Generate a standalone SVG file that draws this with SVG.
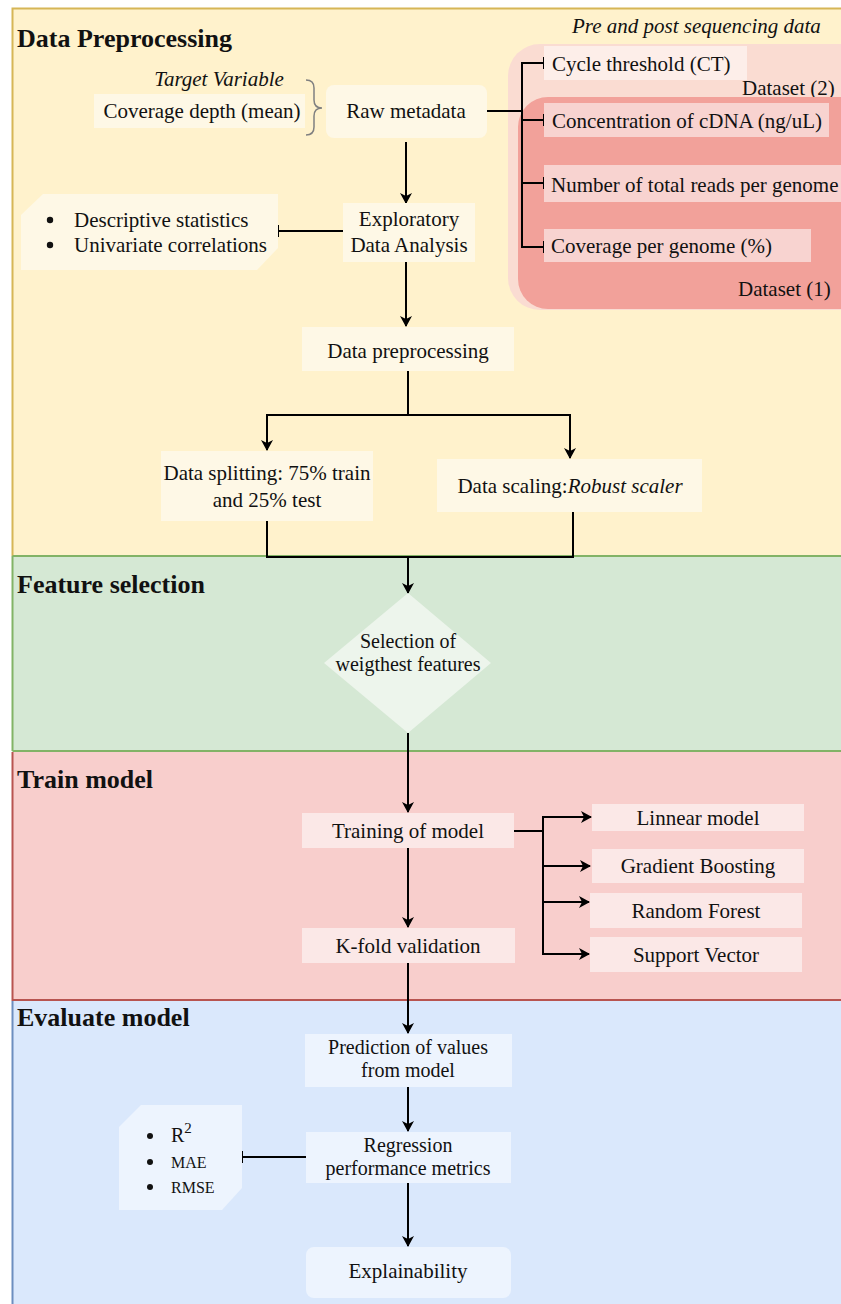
<svg xmlns="http://www.w3.org/2000/svg" width="841" height="1304" viewBox="0 0 841 1304" font-family="'Liberation Serif', serif">
<defs>
<marker id="arrow" markerUnits="userSpaceOnUse" markerWidth="11" markerHeight="12" viewBox="0 0 11 12" refX="10" refY="6" orient="auto">
<path d="M0,0 L11,6 L0,12 L3,6 z" fill="#000"/>
</marker>
<marker id="tee" markerUnits="userSpaceOnUse" markerWidth="4" markerHeight="14" viewBox="0 0 4 14" refX="2" refY="7" orient="auto">
<path d="M2,1 L2,13" stroke="#000" stroke-width="2"/>
</marker>
</defs>
<style>
text{font-family:'Liberation Serif',serif;font-size:21px;fill:#111}
.title{font-weight:bold;font-size:26px}
.it{font-style:italic}
.c{text-anchor:middle}
.two{font-size:20px}
.line{fill:none;stroke:#000;stroke-width:2}
.arr{marker-end:url(#arrow)}
.tee{marker-end:url(#tee)}
.yb{fill:#fef8e6}
.gb{fill:#edf5ec}
.rb{fill:#fbe8e7}
.bb{fill:#edf4fe}
</style>
<rect x="0" y="0" width="841" height="1304" fill="#ffffff"/>
<!-- lanes -->
<g id="lane-preprocessing">
<rect x="12.5" y="8.5" width="840" height="548" fill="#fff2cc"/>
<path d="M12.5,556 L12.5,8.5 L841,8.5" fill="none" stroke="#d6b656" stroke-width="2"/>
<text class="title" x="17" y="47">Data Preprocessing</text>
</g>
<g id="lane-feature">
<rect x="12.5" y="556" width="840" height="195" fill="#d5e8d4"/>
<path d="M12.5,751 L12.5,556 M12.5,556 L841,556 M12.5,751 L841,751" fill="none" stroke="#82b366" stroke-width="2"/>
<text class="title" x="17" y="593">Feature selection</text>
</g>
<g id="lane-train">
<rect x="12.5" y="752" width="840" height="248" fill="#f8cecc"/>
<path d="M12.5,752 L12.5,1000 L841,1000" fill="none" stroke="#b85450" stroke-width="2"/>
<text class="title" x="17" y="788">Train model</text>
</g>
<g id="lane-evaluate">
<rect x="12.5" y="1001" width="840" height="310" fill="#dae8fc"/>
<path d="M12.5,1001 L12.5,1304" fill="none" stroke="#6c8ebf" stroke-width="2"/>
<text class="title" x="17" y="1026">Evaluate model</text>
</g>

<!-- dataset containers -->
<g id="dataset2">
<rect x="508" y="44" width="370" height="266" rx="32" fill="#fadcd2"/>
<text x="742" y="95">Dataset (2)</text>
</g>
<g id="dataset1">
<rect x="518" y="97" width="360" height="212" rx="30" fill="#f2a19a"/>
<text x="738" y="296">Dataset (1)</text>
</g>

<text class="it" x="572" y="33">Pre and post sequencing data</text>

<!-- connectors -->
<g id="connectors">
<path class="line" d="M487,111 L522,111"/>
<path class="line tee" d="M522,111 L522,63 L544,63"/>
<path class="line tee" d="M522,111 L522,120 L544,120"/>
<path class="line tee" d="M522,120 L522,183 L544,183"/>
<path class="line tee" d="M522,183 L522,247 L544,247"/>
<path class="line arr" d="M406,142 L406,203"/>
<path class="line tee" d="M343,231 L278,231"/>
<path class="line arr" d="M406,262 L406,326"/>
<path class="line" d="M408,371 L408,415"/>
<path class="line arr" d="M408,415 L267,415 L267,450"/>
<path class="line arr" d="M408,415 L570,415 L570,458"/>
<path class="line" d="M267,521 L267,557 L573,557 L573,512"/>
<path class="line arr" d="M408,557 L408,593"/>
<path class="line arr" d="M408,733 L408,812"/>
<path class="line" d="M514,831 L543,831"/>
<path class="line arr" d="M543,831 L543,817 L591,817"/>
<path class="line arr" d="M543,831 L543,866 L590,866"/>
<path class="line arr" d="M543,866 L543,902 L589,902"/>
<path class="line arr" d="M543,902 L543,954 L589,954"/>
<path class="line arr" d="M408,848 L408,927"/>
<path class="line arr" d="M408,963 L408,1033"/>
<path class="line arr" d="M408,1087 L408,1131"/>
<path class="line tee" d="M306,1157 L242,1157"/>
<path class="line arr" d="M408,1183 L408,1246"/>
<path d="M306,80 Q314,80 314,88 L314,100 Q314,108 322,108 Q314,108 314,116 L314,127 Q314,135 306,135" fill="none" stroke="#808080" stroke-width="1.5"/>
</g>

<!-- nodes -->
<g id="target-variable">
<text class="it c" x="219" y="86">Target Variable</text>
</g>
<g id="coverage-depth">
<rect class="yb" x="94" y="94" width="211" height="34"/>
<text class="c" x="202" y="118">Coverage depth (mean)</text>
</g>
<g id="raw-metadata">
<rect class="yb" x="326" y="85" width="161" height="53" rx="8"/>
<text class="c" x="406" y="118">Raw metadata</text>
</g>
<g id="cycle-threshold">
<rect x="544" y="46" width="203" height="34" fill="#fdeee9"/>
<text x="552" y="71">Cycle threshold (CT)</text>
</g>
<g id="concentration">
<rect x="544" y="103" width="285" height="34" fill="#f8d3d0"/>
<text x="552" y="128">Concentration of cDNA (ng/uL)</text>
</g>
<g id="total-reads">
<rect x="544" y="165" width="310" height="37" fill="#f8d3d0"/>
<text x="551" y="192">Number of total reads per genome</text>
</g>
<g id="coverage-genome">
<rect x="544" y="229" width="267" height="33" fill="#f8d3d0"/>
<text x="551" y="253">Coverage per genome (%)</text>
</g>
<g id="eda">
<rect class="yb" x="343" y="203" width="132" height="59"/>
<text class="c" x="409" y="226">Exploratory</text>
<text class="c" x="409" y="252">Data Analysis</text>
</g>
<g id="eda-list">
<path class="yb" d="M21,215 L43,194 L278,194 L278,248 L257,270 L21,270 Z"/>
<circle cx="50" cy="220" r="3.2" fill="#111"/>
<circle cx="50" cy="245" r="3.2" fill="#111"/>
<text x="74" y="227">Descriptive statistics</text>
<text x="74" y="252">Univariate correlations</text>
</g>
<g id="data-preprocessing">
<rect class="yb" x="302" y="327" width="212" height="44"/>
<text class="c" x="408" y="358">Data preprocessing</text>
</g>
<g id="data-splitting">
<rect class="yb" x="161" y="451" width="212" height="70"/>
<text class="c" x="267" y="480">Data splitting: 75% train</text>
<text class="c" x="267" y="507">and 25% test</text>
</g>
<g id="data-scaling">
<rect class="yb" x="437" y="459" width="265" height="53"/>
<text class="c" x="570" y="493">Data scaling:<tspan class="it">Robust scaler</tspan></text>
</g>
<g id="selection">
<path class="gb" d="M408,593 L491,663 L408,733 L324,663 Z"/>
<text class="c two" x="408" y="648">Selection of</text>
<text class="c two" x="408" y="671">weigthest features</text>
</g>
<g id="training">
<rect class="rb" x="302" y="813" width="212" height="35"/>
<text class="c" x="408" y="838">Training of model</text>
</g>
<g id="linear">
<rect class="rb" x="592" y="804" width="212" height="27"/>
<text class="c" x="698" y="825">Linnear model</text>
</g>
<g id="gradient">
<rect class="rb" x="592" y="849" width="212" height="34"/>
<text class="c" x="698" y="873">Gradient Boosting</text>
</g>
<g id="random-forest">
<rect class="rb" x="590" y="893" width="212" height="35"/>
<text class="c" x="696" y="918">Random Forest</text>
</g>
<g id="support-vector">
<rect class="rb" x="590" y="937" width="212" height="35"/>
<text class="c" x="696" y="962">Support Vector</text>
</g>
<g id="kfold">
<rect class="rb" x="302" y="928" width="213" height="35"/>
<text class="c" x="408" y="953">K-fold validation</text>
</g>
<g id="prediction">
<rect class="bb" x="305" y="1034" width="207" height="53"/>
<text class="c two" x="408" y="1054">Prediction of values</text>
<text class="c two" x="408" y="1077">from model</text>
</g>
<g id="regression">
<rect class="bb" x="306" y="1132" width="205" height="51"/>
<text class="c two" x="408" y="1152">Regression</text>
<text class="c two" x="408" y="1175">performance metrics</text>
</g>
<g id="metrics">
<path class="bb" d="M119,1127 L141,1105 L242,1105 L242,1188 L222,1210 L119,1210 Z"/>
<circle cx="150" cy="1136" r="3" fill="#111"/>
<circle cx="150" cy="1162" r="3" fill="#111"/>
<circle cx="150" cy="1187" r="3" fill="#111"/>
<text x="171" y="1142" style="font-size:20px">R<tspan dy="-9" style="font-size:15px">2</tspan></text>
<text x="171" y="1168" style="font-size:16px">MAE</text>
<text x="171" y="1193" style="font-size:16px">RMSE</text>
</g>
<g id="explainability">
<rect class="bb" x="306" y="1247" width="205" height="51" rx="8"/>
<text class="c" x="408" y="1278">Explainability</text>
</g>
</svg>
